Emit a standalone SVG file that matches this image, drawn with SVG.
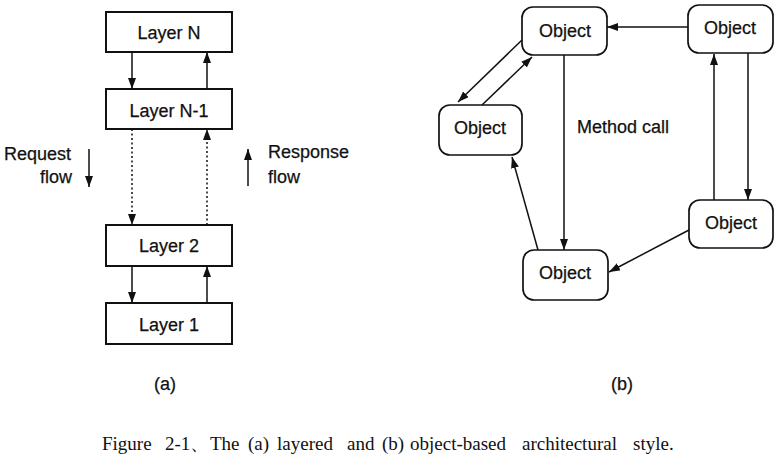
<svg xmlns="http://www.w3.org/2000/svg" width="778" height="463" viewBox="0 0 778 463">
<style>
.box{fill:#fff;stroke:#111;stroke-width:2}
.obj{fill:#fff;stroke:#111;stroke-width:1.7}
.lbl{font-family:"Liberation Sans",Arial,sans-serif;font-size:18px;fill:#111;stroke:#111;stroke-width:0.25}
.c{text-anchor:middle}
.ln{stroke:#111;stroke-width:1.5;fill:none}
.dot{stroke:#111;stroke-width:1.5;fill:none;stroke-dasharray:2 2.5}
.cap{font-family:"Liberation Serif","Times New Roman",serif;font-size:19px;fill:#111}
</style>
<defs>
<marker id="ah" markerUnits="userSpaceOnUse" markerWidth="12" markerHeight="9" refX="11" refY="4" orient="auto">
<path d="M0,0 L11,4 L0,8 z" fill="#111"/>
</marker>
</defs>
<g id="layerN"><rect class="box" x="106" y="12" width="126" height="40"/><text class="lbl c" x="169" y="39">Layer N</text></g>
<g id="layerN1"><rect class="box" x="106" y="89" width="126" height="40"/><text class="lbl c" x="169" y="117">Layer N-1</text></g>
<g id="layer2"><rect class="box" x="106" y="225" width="126" height="41"/><text class="lbl c" x="169" y="252">Layer 2</text></g>
<g id="layer1"><rect class="box" x="106" y="303" width="126" height="41"/><text class="lbl c" x="169" y="331">Layer 1</text></g>
<g id="obj-top"><rect class="obj" x="522" y="7" width="85" height="48" rx="11"/><text class="lbl c" x="565" y="37">Object</text></g>
<g id="obj-topright"><rect class="obj" x="688" y="5" width="85" height="48" rx="11"/><text class="lbl c" x="730" y="34">Object</text></g>
<g id="obj-left"><rect class="obj" x="439" y="105" width="83" height="50" rx="11"/><text class="lbl c" x="480" y="134">Object</text></g>
<g id="obj-right"><rect class="obj" x="689" y="200" width="84" height="48" rx="11"/><text class="lbl c" x="731" y="229">Object</text></g>
<g id="obj-bottom"><rect class="obj" x="523" y="250" width="85" height="50" rx="11"/><text class="lbl c" x="565" y="279">Object</text></g>
<g id="connectors">
<line class="ln" x1="132" y1="52" x2="132" y2="89" marker-end="url(#ah)"/>
<line class="ln" x1="207" y1="89" x2="207" y2="52" marker-end="url(#ah)"/>
<line class="dot" x1="132" y1="129" x2="132" y2="225" marker-end="url(#ah)"/>
<line class="dot" x1="207" y1="225" x2="207" y2="129" marker-end="url(#ah)"/>
<line class="ln" x1="132" y1="266" x2="132" y2="303" marker-end="url(#ah)"/>
<line class="ln" x1="207" y1="303" x2="207" y2="266" marker-end="url(#ah)"/>
<line class="ln" x1="89" y1="149" x2="89" y2="187" marker-end="url(#ah)"/>
<line class="ln" x1="248" y1="186" x2="248" y2="149" marker-end="url(#ah)"/>
<line class="ln" x1="688" y1="27" x2="607" y2="27" marker-end="url(#ah)"/>
<line class="ln" x1="522" y1="40" x2="458" y2="102" marker-end="url(#ah)"/>
<line class="ln" x1="482" y1="105" x2="532" y2="57" marker-end="url(#ah)"/>
<line class="ln" x1="564" y1="55" x2="564" y2="250" marker-end="url(#ah)"/>
<line class="ln" x1="538" y1="250" x2="512" y2="157" marker-end="url(#ah)"/>
<line class="ln" x1="714" y1="200" x2="714" y2="54" marker-end="url(#ah)"/>
<line class="ln" x1="748" y1="53" x2="748" y2="200" marker-end="url(#ah)"/>
<line class="ln" x1="689" y1="230" x2="609" y2="272" marker-end="url(#ah)"/>
</g>
<text class="lbl" x="4" y="160">Request</text>
<text class="lbl" x="40" y="183">flow</text>
<text class="lbl" x="268" y="158">Response</text>
<text class="lbl" x="268" y="183">flow</text>
<text class="lbl" x="577" y="133">Method call</text>
<text class="lbl c" x="165" y="390">(a)</text>
<text class="lbl c" x="622" y="390">(b)</text>
<text class="cap" y="450"><tspan x="102">Figure</tspan><tspan x="165">2-1、</tspan><tspan x="210">The</tspan><tspan x="248">(a)</tspan><tspan x="277">layered</tspan><tspan x="347">and</tspan><tspan x="382">(b)</tspan><tspan x="410">object-based</tspan><tspan x="522">architectural</tspan><tspan x="633">style.</tspan></text>
</svg>
